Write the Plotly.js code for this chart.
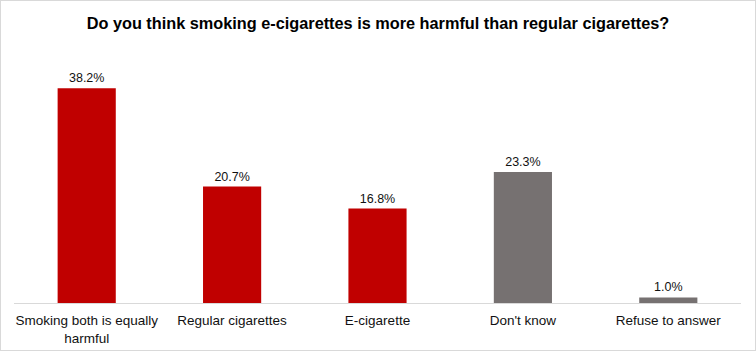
<!DOCTYPE html>
<html><head><meta charset="utf-8">
<script src="https://cdn.plot.ly/plotly-3.0.1.min.js"></script>
<style>
html,body{margin:0;padding:0;background:#fff;}
#wrap{position:relative;width:756px;height:351px;}
#chart{position:absolute;left:0;top:0;width:756px;height:351px;}
#frame{position:absolute;left:0;top:0;width:754px;height:349px;border:1px solid #d9d9d9;pointer-events:none;}
</style></head>
<body>
<div id="wrap"><div id="chart"></div><div id="frame"></div></div>
<script>
const categories = ["Smoking both is equally<br>harmful", "Regular cigarettes", "E-cigarette", "Don't know", "Refuse to answer"];
const values = [38.2, 20.7, 16.8, 23.3, 1.0];
const barColors = ["#C00000", "#C00000", "#C00000", "#767171", "#767171"];

const trace = {
  type: "bar",
  x: categories,
  y: values,
  marker: {color: barColors},
  text: values.map(v => v.toFixed(1) + "%"),
  textposition: "outside",
  textfont: {family: "Liberation Sans, Arial, sans-serif", size: 12.5, color: "#111"},
  cliponaxis: false,
  hoverinfo: "none"
};

const layout = {
  width: 756, height: 351,
  margin: {l: 14, r: 15, t: 50, b: 48},
  paper_bgcolor: "#fff", plot_bgcolor: "#fff",
  bargap: 0.6,
  showlegend: false,
  title: {
    text: "<b>Do you think smoking e-cigarettes is more harmful than regular cigarettes?</b>",
    font: {family: "Liberation Sans, Arial, sans-serif", size: 16.3, color: "#000"},
    x: 0.5, xanchor: "center", y: 0.935, yanchor: "middle", yref: "container"
  },
  xaxis: {
    showline: true, linecolor: "#d9d9d9", linewidth: 1,
    ticks: "", showgrid: false, zeroline: false,
    ticklabelstandoff: 5,
    tickfont: {family: "Liberation Sans, Arial, sans-serif", size: 13.5, color: "#111"}
  },
  yaxis: {
    range: [0, 45], visible: false, showgrid: false, zeroline: false
  }
};

Plotly.newPlot("chart", [trace], layout, {staticPlot: true, displayModeBar: false});
</script>
</body></html>
